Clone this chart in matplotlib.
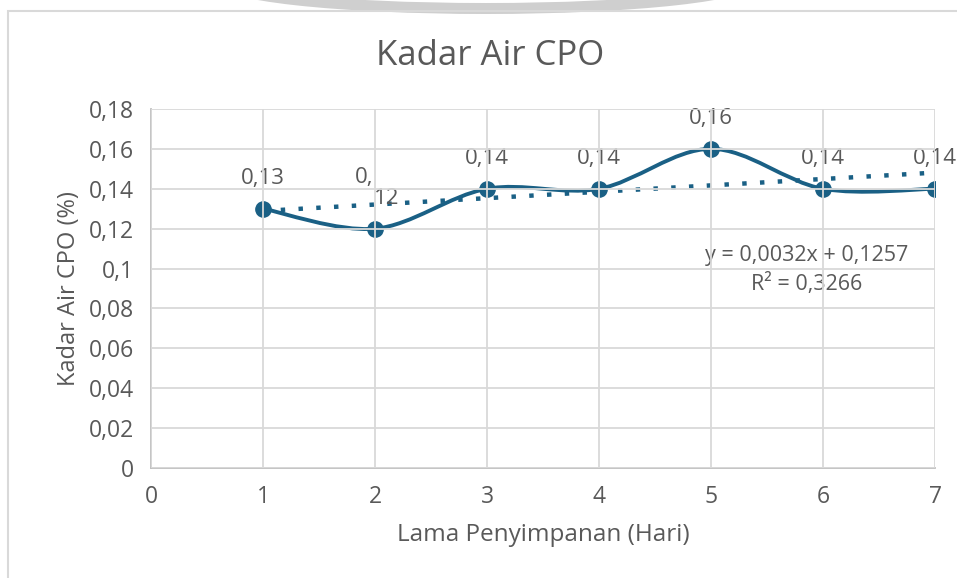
import matplotlib
matplotlib.use("Agg")
import matplotlib.pyplot as plt
from matplotlib.path import Path
from matplotlib.patches import PathPatch, Rectangle, Ellipse

plt.rcParams['font.family'] = ['Open Sans', 'DejaVu Sans']

days = [1, 2, 3, 4, 5, 6, 7]
kadar_air = [0.13, 0.12, 0.14, 0.14, 0.16, 0.14, 0.14]
labels = ['0,13', '0,12', '0,14', '0,14', '0,16', '0,14', '0,14']
slope, intercept = 0.0032, 0.1257
eq_text = 'y = 0,0032x + 0,1257\nR² = 0,3266'
y_ticks = [0, 0.02, 0.04, 0.06, 0.08, 0.1, 0.12, 0.14, 0.16, 0.18]
y_tick_labels = ['0', '0,02', '0,04', '0,06', '0,08', '0,1', '0,12', '0,14', '0,16', '0,18']

text_col = '#595959'
line_col = '#1a6085'
grid_col = '#d9d9d9'

W, H = 957, 578
fig = plt.figure(figsize=(W / 100, H / 100), dpi=100)

# grey crescent above the chart (from the page behind it)
fig.patches.append(Ellipse((486 / W, 1 + 16 / H), 540 / W, 60 / H, transform=fig.transFigure,
                           facecolor='#cfcfcf', edgecolor='none'))
fig.patches.append(Ellipse((486 / W, 1 + 27 / H), 560 / W, 60 / H, transform=fig.transFigure,
                           facecolor='white', edgecolor='none'))
# chart area border
fig.patches.append(Rectangle((8 / W, -0.1), 1.2, 1 - 11 / H + 0.1, transform=fig.transFigure,
                             fill=False, edgecolor='#d9d9d9', lw=1.5))

ax = fig.add_axes([151 / W, 1 - 468 / H, (935 - 151) / W, (468 - 109) / H])

# smooth line (Excel-style cubic bezier through the points)
verts = [(days[0], kadar_air[0])]
codes = [Path.MOVETO]
n = len(days)
for i in range(n - 1):
    p0 = (days[max(i - 1, 0)], kadar_air[max(i - 1, 0)])
    p1 = (days[i], kadar_air[i])
    p2 = (days[i + 1], kadar_air[i + 1])
    p3 = (days[min(i + 2, n - 1)], kadar_air[min(i + 2, n - 1)])
    c1 = (p1[0] + (p2[0] - p0[0]) / 6, p1[1] + (p2[1] - p0[1]) / 6)
    c2 = (p2[0] - (p3[0] - p1[0]) / 6, p2[1] - (p3[1] - p1[1]) / 6)
    verts += [c1, c2, p2]
    codes += [Path.CURVE4] * 3
ax.add_patch(PathPatch(Path(verts, codes), fill=False, edgecolor=line_col, lw=2.8, zorder=3))
ax.plot(days, kadar_air, 'o', color=line_col, ms=11, zorder=4)

# linear trendline
tx = [days[0], days[-1]]
ax.plot(tx, [slope * x + intercept for x in tx], color=line_col, lw=3.2, ls=(0, (1, 3)), zorder=2)

# data labels
for i, (x, y, lab) in enumerate(zip(days, kadar_air, labels)):
    if i == 1:
        ax.text(x - 0.1, y + 0.0205, '0,', ha='center', va='bottom', fontsize=16, color=text_col)
        ax.text(x + 0.1, y + 0.0100, '12', ha='center', va='bottom', fontsize=16, color=text_col)
    else:
        ax.text(x, y + 0.0100, lab, ha='center', va='bottom', fontsize=16, color=text_col, clip_on=False)

ax.text(5.85, 0.0865, eq_text, ha='center', va='bottom', fontsize=15.5, color=text_col, linespacing=1.45)

ax.set_xlim(0, 7)
ax.set_ylim(0, 0.18)
ax.set_xticks(range(0, 8))
ax.set_yticks(y_ticks)
ax.set_yticklabels(y_tick_labels)
ax.grid(True, color=grid_col, lw=1.3)
# gridlines sit on top of the series, as in the original
ax.xaxis.set_zorder(10)
ax.yaxis.set_zorder(10)
for s in ['top', 'right']:
    ax.spines[s].set_visible(False)
for s in ['left', 'bottom']:
    ax.spines[s].set_color('#bfbfbf')
    ax.spines[s].set_linewidth(1.3)
ax.tick_params(length=0, labelsize=16.5, labelcolor=text_col, pad=12)

fig.text(490 / W, 1 - 56 / H, 'Kadar Air CPO', ha='center', va='center', fontsize=25, color=text_col)
ax.set_xlabel('Lama Penyimpanan (Hari)', fontsize=17.5, color=text_col, labelpad=10)
ax.set_ylabel('Kadar Air CPO (%)', fontsize=17, color=text_col, labelpad=6)

fig.savefig('out.png', dpi=100)
